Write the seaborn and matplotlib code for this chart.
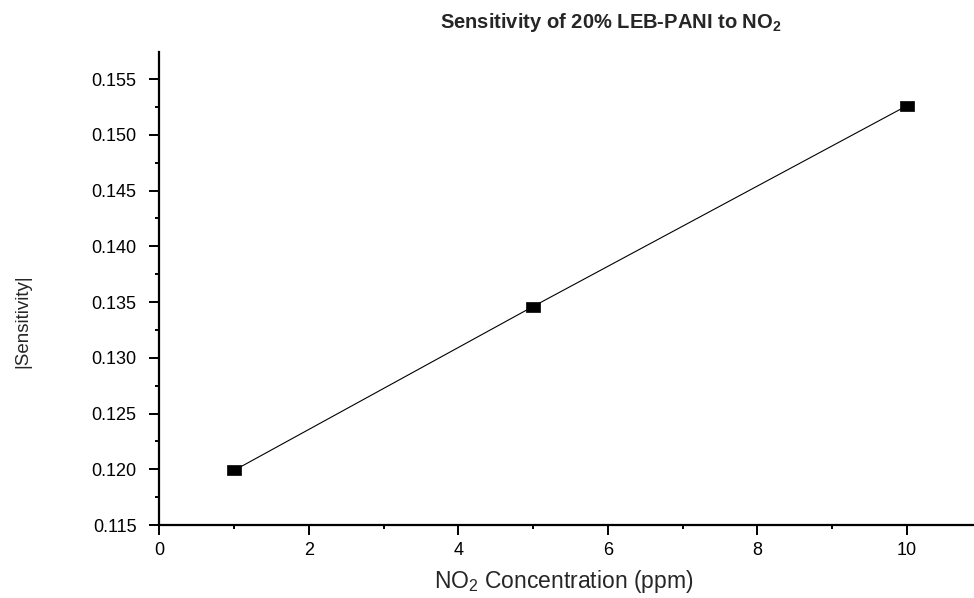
import matplotlib
matplotlib.use("Agg")
import matplotlib.pyplot as plt
import seaborn as sns
import pandas as pd
from matplotlib.ticker import MultipleLocator, FormatStrFormatter

# Data
concentration = [1, 5, 10]
sensitivity = [0.1199, 0.1346, 0.1526]
title_text = "Sensitivity of 20% LEB-PANI to NO$_2$"
xlabel_text = "NO$_2$ Concentration (ppm)"
ylabel_text = "|Sensitivity|"

sns.set_style("ticks")
plt.rcParams["font.family"] = ["Liberation Sans", "DejaVu Sans"]
plt.rcParams["mathtext.default"] = "regular"

df = pd.DataFrame({"conc": concentration, "sens": sensitivity})

fig = plt.figure(figsize=(9.74, 5.98), dpi=100)
ax = fig.add_axes([0.1636, 0.122, 1.0 - 0.1636, 0.9125 - 0.122])

rect = [(-1.45, -1), (1.45, -1), (1.45, 1), (-1.45, 1), (-1.45, -1)]
sns.lineplot(data=df, x="conc", y="sens", ax=ax, color="black", linewidth=0.8,
             marker=rect, markersize=9.6, markerfacecolor="black",
             markeredgecolor="black", markeredgewidth=0.5)

ax.set_xlim(0, 10.9)
ax.set_ylim(0.115, 0.1574)
ax.xaxis.set_major_locator(MultipleLocator(2))
ax.xaxis.set_minor_locator(MultipleLocator(1))
ax.yaxis.set_major_locator(MultipleLocator(0.005))
ax.yaxis.set_minor_locator(MultipleLocator(0.0025))
ax.yaxis.set_major_formatter(FormatStrFormatter("%.3f"))
ax.xaxis.set_major_formatter(FormatStrFormatter("%d"))

for side in ["top", "right"]:
    ax.spines[side].set_visible(False)
for side in ["left", "bottom"]:
    ax.spines[side].set_linewidth(1.6)
    ax.spines[side].set_color("black")

ax.tick_params(axis="both", which="major", direction="out", length=7.5, width=1.4,
               labelsize=13, colors="black", pad=5)
ax.tick_params(axis="y", which="major", pad=9)
ax.tick_params(axis="both", which="minor", direction="out", length=3.2, width=1.4,
               colors="black")

ax.set_xlabel("")
ax.set_ylabel("")
fig.text(0.579, 0.027, xlabel_text, ha="center", va="center", fontsize=16.5)
fig.text(0.023, 0.463, ylabel_text, ha="center", va="center", rotation=90, fontsize=13.5)
fig.text(0.627, 0.963, title_text, ha="center", va="center", fontsize=14.5,
         fontweight="bold")

fig.savefig("out.png", dpi=100)
